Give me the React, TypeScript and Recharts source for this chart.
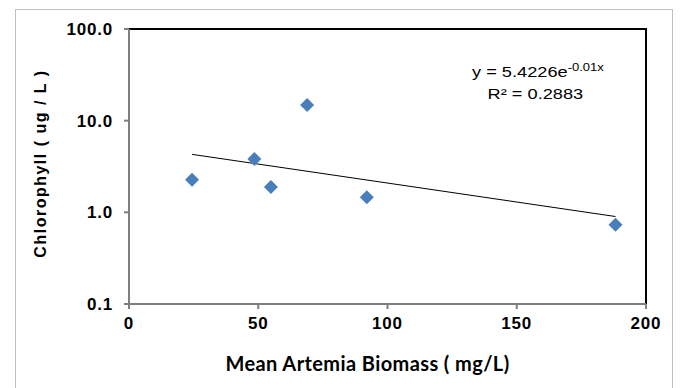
import {
  ScatterChart,
  Scatter,
  XAxis,
  YAxis,
  ReferenceArea,
} from "recharts";

const biomass = [24.4, 48.5, 54.9, 68.9, 92.0, 188.2];
const chlorophyll = [2.27, 3.81, 1.89, 14.8, 1.46, 0.73];

// trendline endpoints
const trendX = [24.4, 188.2];
const trendY = [4.29, 0.9];

const xTicks = [0, 50, 100, 150, 200];
const yTicks = [0.1, 1, 10, 100];

const points = biomass.map((x, i) => ({ x, y: chlorophyll[i] }));
const trend = trendX.map((x, i) => ({ x, y: trendY[i] }));

const Diamond = (props: any) => {
  const { cx, cy } = props;
  const r = 7;
  return (
    <polygon
      points={`${cx},${cy - r} ${cx + r},${cy} ${cx},${cy + r} ${cx - r},${cy}`}
      fill="#4A7EBB"
    />
  );
};

const tickStyle = {
  fontSize: 17,
  fontWeight: "bold",
  fill: "#000",
  letterSpacing: 0.8,
  fontFamily: "'Liberation Sans', Arial, sans-serif",
};

export default function App() {
  return (
    <div
      style={{
        position: "absolute",
        left: 0,
        top: 0,
        width: 683,
        height: 388,
        background: "#fff",
        fontFamily: "'Liberation Sans', Arial, sans-serif",
      }}
    >
      <div
        style={{
          position: "absolute",
          left: 15,
          top: 9,
          width: 656,
          height: 384,
          border: "1px solid #BFBFBF",
        }}
      />
      <ScatterChart
        width={683}
        height={388}
        margin={{ top: 29, right: 37, left: 0, bottom: 0 }}
        style={{ position: "absolute", left: 0, top: 0 }}
      >
        <ReferenceArea
          x1={0}
          x2={200}
          y1={0.1}
          y2={100}
          fill="none"
          stroke="#000"
          strokeWidth={2}
          ifOverflow="visible"
        />
        <XAxis
          type="number"
          dataKey="x"
          domain={[0, 200]}
          ticks={xTicks}
          height={84}
          tickSize={5}
          tickMargin={8}
          stroke="#7F7F7F"
          strokeWidth={2}
          tick={tickStyle}
          label={{
            value: "Mean Artemia Biomass ( mg/L)",
            position: "insideBottom",
            offset: 17,
            dx: -20,
            style: {
              fontSize: 20,
              fontWeight: "bold",
              fill: "#000",
              fontFamily: "Lato, sans-serif",
              letterSpacing: 0.4,
            },
          }}
        />
        <YAxis
          type="number"
          dataKey="y"
          scale="log"
          domain={[0.1, 100]}
          ticks={yTicks}
          width={129}
          allowDataOverflow
          tickSize={5}
          tickMargin={11}
          stroke="#7F7F7F"
          strokeWidth={2}
          tickFormatter={(v: number) => v.toFixed(1)}
          tick={tickStyle}
          label={{
            value: "Chlorophyll  ( ug / L )",
            angle: -90,
            position: "insideLeft",
            offset: 40,
            dy: -3,
            style: {
              fontSize: 16,
              fontWeight: "bold",
              fill: "#000",
              textAnchor: "middle",
              letterSpacing: 1.5,
            },
          }}
        />
        <Scatter
          data={trend}
          line={{ stroke: "#000", strokeWidth: 1 }}
          shape={() => <g />}
          isAnimationActive={false}
        />
        <Scatter data={points} shape={Diamond} isAnimationActive={false} />
      </ScatterChart>
      <div
        style={{
          position: "absolute",
          left: 472,
          top: 62,
          fontSize: 14,
          color: "#000",
          lineHeight: "20px",
          transform: "scaleX(1.3)",
          transformOrigin: "left top",
          whiteSpace: "nowrap",
        }}
      >
        <div>
          y = 5.4226e
          <span style={{ fontSize: 10, position: "relative", top: -6 }}>
            -0.01x
          </span>
        </div>
        <div style={{ marginLeft: 12 }}>R² = 0.2883</div>
      </div>
    </div>
  );
}
